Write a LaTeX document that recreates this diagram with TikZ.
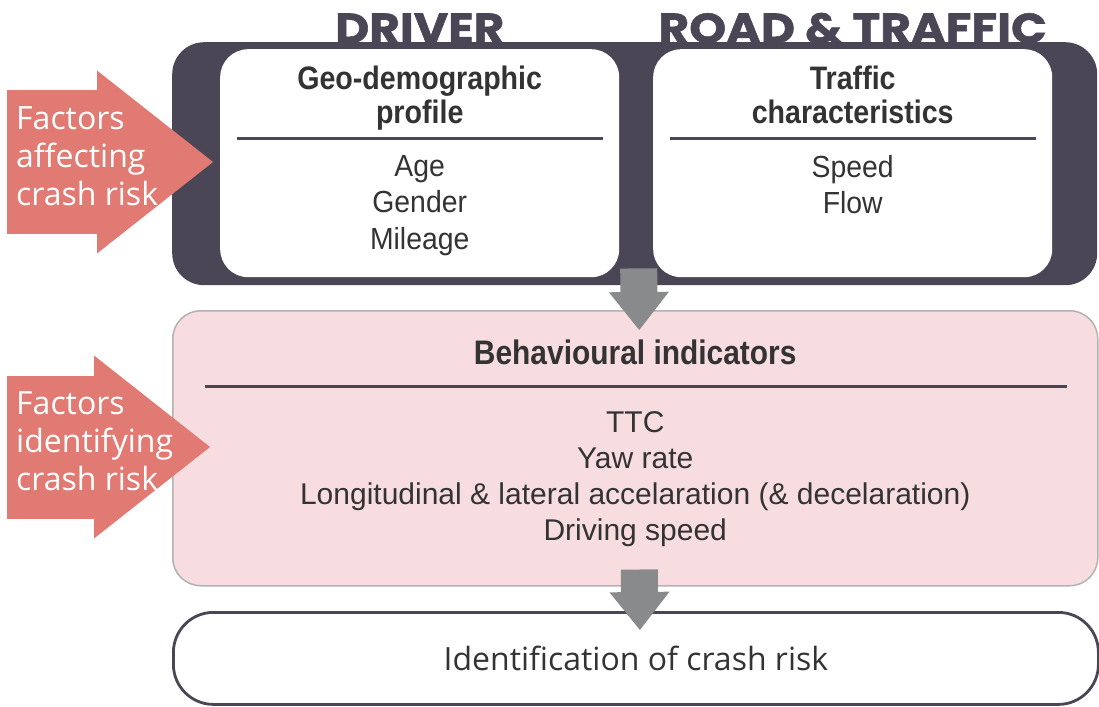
\documentclass[tikz,border=0pt]{standalone}
\usepackage{fontspec}
\setmainfont{Liberation Sans}
\newfontfamily\titlefont{Poppins}[FakeStretch=1.12,BoldFeatures={FakeBold=1.3}]
\newfontfamily\narrowfont{Liberation Sans}[FakeStretch=0.88]
\newfontfamily\itemfont{Liberation Sans}[FakeStretch=0.93]
\newfontfamily\sidefont{Open Sans}
\usetikzlibrary{arrows.meta,positioning}

\definecolor{darkframe}{HTML}{4B4656}
\definecolor{factorred}{HTML}{E07A72}
\definecolor{indicpink}{HTML}{F7DCE0}
\definecolor{flowgrey}{HTML}{898A8C}
\definecolor{textgrey}{HTML}{333333}

\begin{document}
\begin{tikzpicture}[x=1pt,y=-1pt,
    frame/.style={fill=darkframe, rounded corners=32pt, inner sep=0pt,
        anchor=north west, minimum width=925pt, minimum height=243pt},
    card/.style={fill=white, rounded corners=28pt, inner sep=0pt,
        anchor=north west, minimum width=399pt, minimum height=228pt},
    pinkbox/.style={fill=indicpink, draw=black!30, line width=1.5pt,
        rounded corners=28pt, inner sep=0pt, anchor=north west,
        minimum width=925pt, minimum height=275pt},
    riskbox/.style={fill=white, draw=darkframe, line width=2.8pt,
        rounded corners=40pt, inner sep=0pt, anchor=north west,
        minimum width=925pt, minimum height=92pt, text=textgrey,
        font=\sidefont\fontsize{32}{38}\selectfont},
    title/.style={text=darkframe, inner sep=0pt,
        font=\titlefont\fontsize{42}{46}\selectfont\bfseries},
    head/.style={text=textgrey, align=center, inner sep=0pt,
        font=\narrowfont\fontsize{32.5}{34}\selectfont\bfseries},
    items/.style={text=textgrey, align=center, inner sep=0pt,
        font=\itemfont\fontsize{30.5}{36.5}\selectfont},
    rule/.style={draw=darkframe, line width=3pt},
    flowarrow/.style={draw=flowgrey, line width=37pt,
        -{Triangle[length=38pt,width=60pt,line width=0pt]}},
    factorarrow/.style={draw=factorred, line width=143pt,
        -{Triangle[length=116pt,width=183pt,line width=0pt]}},
    factortext/.style={text=white, align=left, anchor=west, inner sep=0pt,
        font=\sidefont\fontsize{32}{38}\selectfont},
  ]
  \useasboundingbox (0,0) rectangle (1099,706);

  \node[frame] (core) at (172,42) {};
  \node[card] (geo) at (220,49) {};
  \node[card] (traffic) at (653,49) {};

  \node[title, anchor=base] (driver) at ([yshift=6]geo.north) {DRIVER};
  \node[title, anchor=base] (road) at ([yshift=6]traffic.north) {ROAD \& TRAFFIC};

  \node[head] (geohead) at ([yshift=-49]geo.north) {Geo-demographic\\profile};
  \draw[rule] ([xshift=17,yshift=-89]geo.north west) -- ([xshift=-16,yshift=-89]geo.north east);
  \node[items] (geolist) at ([yshift=-156.5]geo.north) {Age\\Gender\\Mileage};

  \node[head] (traffichead) at ([yshift=-46]traffic.north) {Traffic\\characteristics};
  \draw[rule] ([xshift=17,yshift=-89]traffic.north west) -- ([xshift=-16,yshift=-89]traffic.north east);
  \node[items] (trafficlist) at ([yshift=-135.5]traffic.north) {Speed\\Flow};

  \node[pinkbox] (indic) at (172,310) {};
  \node[head, font=\narrowfont\fontsize{34}{34}\selectfont\bfseries] (indichead) at ([yshift=-42]indic.north) {Behavioural indicators};
  \draw[rule] ([xshift=33,yshift=-76]indic.north west) -- ([xshift=-32,yshift=-76]indic.north east);
  \node[items, font=\fontsize{30}{36}\selectfont] (indiclist) at ([yshift=-169]indic.north)
    {TTC\\Yaw rate\\Longitudinal \& lateral accelaration (\& decelaration)\\Driving speed};

  \node[riskbox] (risk) at (172,611) {Identification of crash risk};

  \draw[flowarrow] ([xshift=4,yshift=17]core.south) -- ([xshift=4,yshift=-20]indic.north);
  \draw[flowarrow] ([xshift=4,yshift=17]indic.south) -- ([xshift=4,yshift=-19]risk.north);

  \coordinate (tail1) at (7,162);
  \coordinate (tail2) at (7,447);
  \draw[factorarrow] (tail1) -- ([xshift=41]tail1 -| core.west);
  \draw[factorarrow] (tail2) -- ([xshift=38]tail2 -| indic.west);
  \node[factortext] (affect) at ([xshift=9,yshift=6]tail1) {Factors\\affecting\\crash risk};
  \node[factortext] (identify) at ([xshift=9,yshift=6]tail2) {Factors\\identifying\\crash risk};
\end{tikzpicture}
\end{document}
